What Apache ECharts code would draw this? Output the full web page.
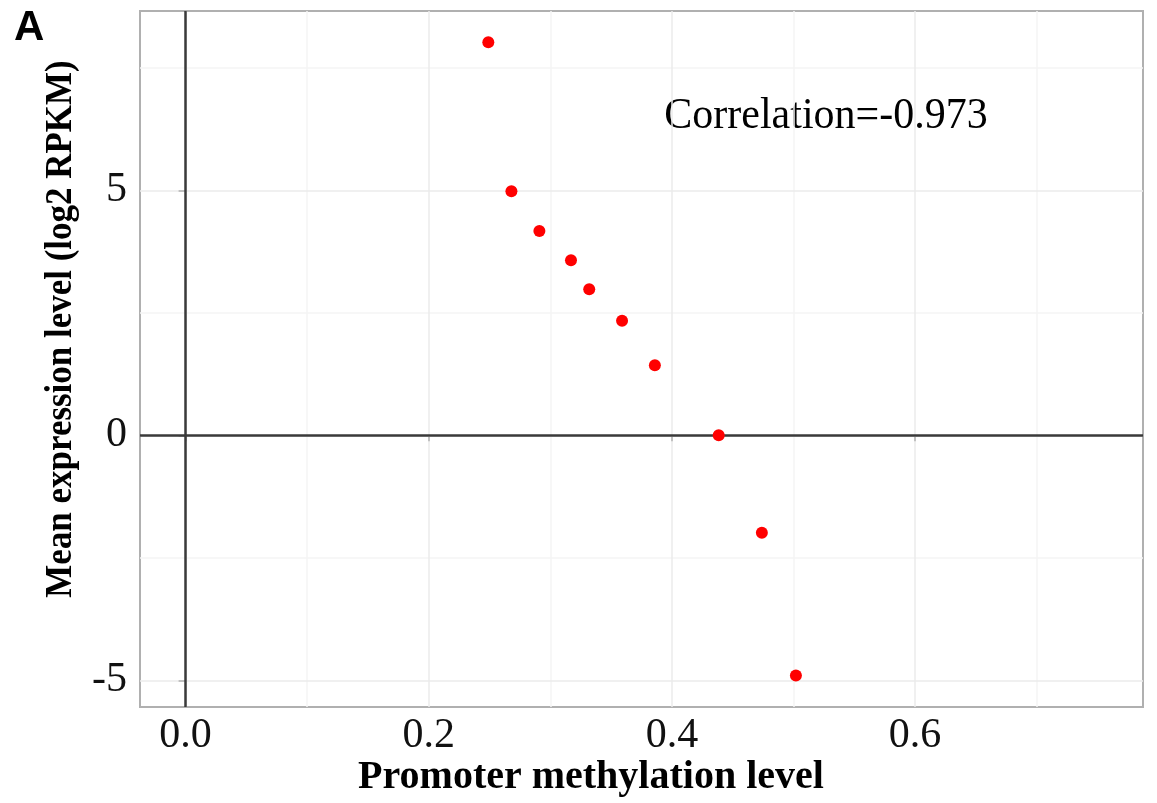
<!DOCTYPE html>
<html>
<head>
<meta charset="utf-8">
<script src="https://cdn.jsdelivr.net/npm/echarts@6/dist/echarts.min.js"></script>
<style>
html,body{margin:0;padding:0;background:#fff;}
#chart{width:1157px;height:803px;}
</style>
</head>
<body>
<div id="chart"></div>
<script>
// Data
var methylation = [0.249, 0.268, 0.291, 0.317, 0.332, 0.359, 0.386, 0.4385, 0.474, 0.502];
var expression  = [8.02, 4.98, 4.17, 3.57, 2.98, 2.34, 1.43, 0.0, -1.99, -4.90];
var xTicks = [0, 0.2, 0.4, 0.6];
var xMinor = [0.1, 0.3, 0.5, 0.7];
var yTicks = [-5, 0, 5];
var yMinor = [-2.5, 2.5, 7.5];
var zeroX = [0];
var zeroY = [0];
var correlationText = 'Correlation=-0.973';
var xTitle = 'Promoter methylation level';
var yTitle = 'Mean expression level (log2 RPKM)';
var panelLabel = 'A';

var serif = "'Liberation Serif','Times New Roman',serif";
var chart = echarts.init(document.getElementById('chart'), null, {renderer: 'canvas'});

function vLines(vals, color, width) {
  return vals.map(function (v) { return {xAxis: v, lineStyle: {color: color, width: width, type: 'solid'}}; });
}
function hLines(vals, color, width) {
  return vals.map(function (v) { return {yAxis: v, lineStyle: {color: color, width: width, type: 'solid'}}; });
}
var points = methylation.map(function (x, i) { return [x, expression[i]]; });

chart.setOption({
  backgroundColor: '#ffffff',
  animation: false,
  grid: {left: 140, top: 11, width: 1003, height: 696, show: true, borderColor: '#b0b0b0', borderWidth: 2, backgroundColor: 'transparent'},
  xAxis: {
    type: 'value', min: -0.0375, max: 0.7875,
    axisLine: {show: false},
    splitLine: {show: false},
    axisTick: {show: true, customValues: xTicks, length: 6, lineStyle: {color: '#444', width: 2}},
    axisLabel: {customValues: xTicks, margin: 8, fontFamily: serif, fontSize: 42, color: '#111',
      formatter: function (v) { return Number(v).toFixed(1); }}
  },
  yAxis: {
    type: 'value', min: -5.545, max: 8.659,
    axisLine: {show: false},
    splitLine: {show: false},
    axisTick: {show: true, customValues: yTicks, length: 7, lineStyle: {color: '#444', width: 2}},
    axisLabel: {customValues: yTicks, margin: 13, fontFamily: serif, fontSize: 42, color: '#111',
      formatter: function (v) { return String(Math.round(v)); }}
  },
  series: [
    {type: 'scatter', data: [], z: 1, silent: true,
      markLine: {silent: true, symbol: 'none', label: {show: false}, animation: false,
        data: vLines(xMinor, '#f4f4f4', 1.5).concat(hLines(yMinor, '#f4f4f4', 1.5))
          .concat(vLines(xTicks, '#ebebeb', 1.5)).concat(hLines(yTicks, '#ebebeb', 1.5))}},
    {type: 'scatter', data: [], z: 2, silent: true,
      markLine: {silent: true, symbol: 'none', label: {show: false}, animation: false,
        data: vLines(zeroX, '#3a3a3a', 2.5).concat(hLines(zeroY, '#3a3a3a', 2.5))}},
    {type: 'scatter', data: points, z: 5, symbol: 'circle', symbolSize: 12,
      itemStyle: {color: '#ff0000', opacity: 1}}
  ],
  graphic: [
    {type: 'text', left: 14, top: 7, style: {text: panelLabel, font: "bold 42px 'Liberation Sans', Arial, sans-serif", fill: '#000'}},
    {type: 'text', x: 826, y: 116, scaleY: 1.05, style: {text: correlationText, font: '42px ' + serif, fill: '#000', align: 'center', verticalAlign: 'middle'}},
    {type: 'text', x: 591, y: 778, style: {text: xTitle, font: 'bold 40px ' + serif, fill: '#000', align: 'center', verticalAlign: 'middle'}},
    {type: 'text', x: 61, y: 329, rotation: Math.PI / 2, scaleX: 0.92, style: {text: yTitle, font: 'bold 38px ' + serif, fill: '#000', align: 'center', verticalAlign: 'middle'}}
  ]
});
</script>
</body>
</html>
